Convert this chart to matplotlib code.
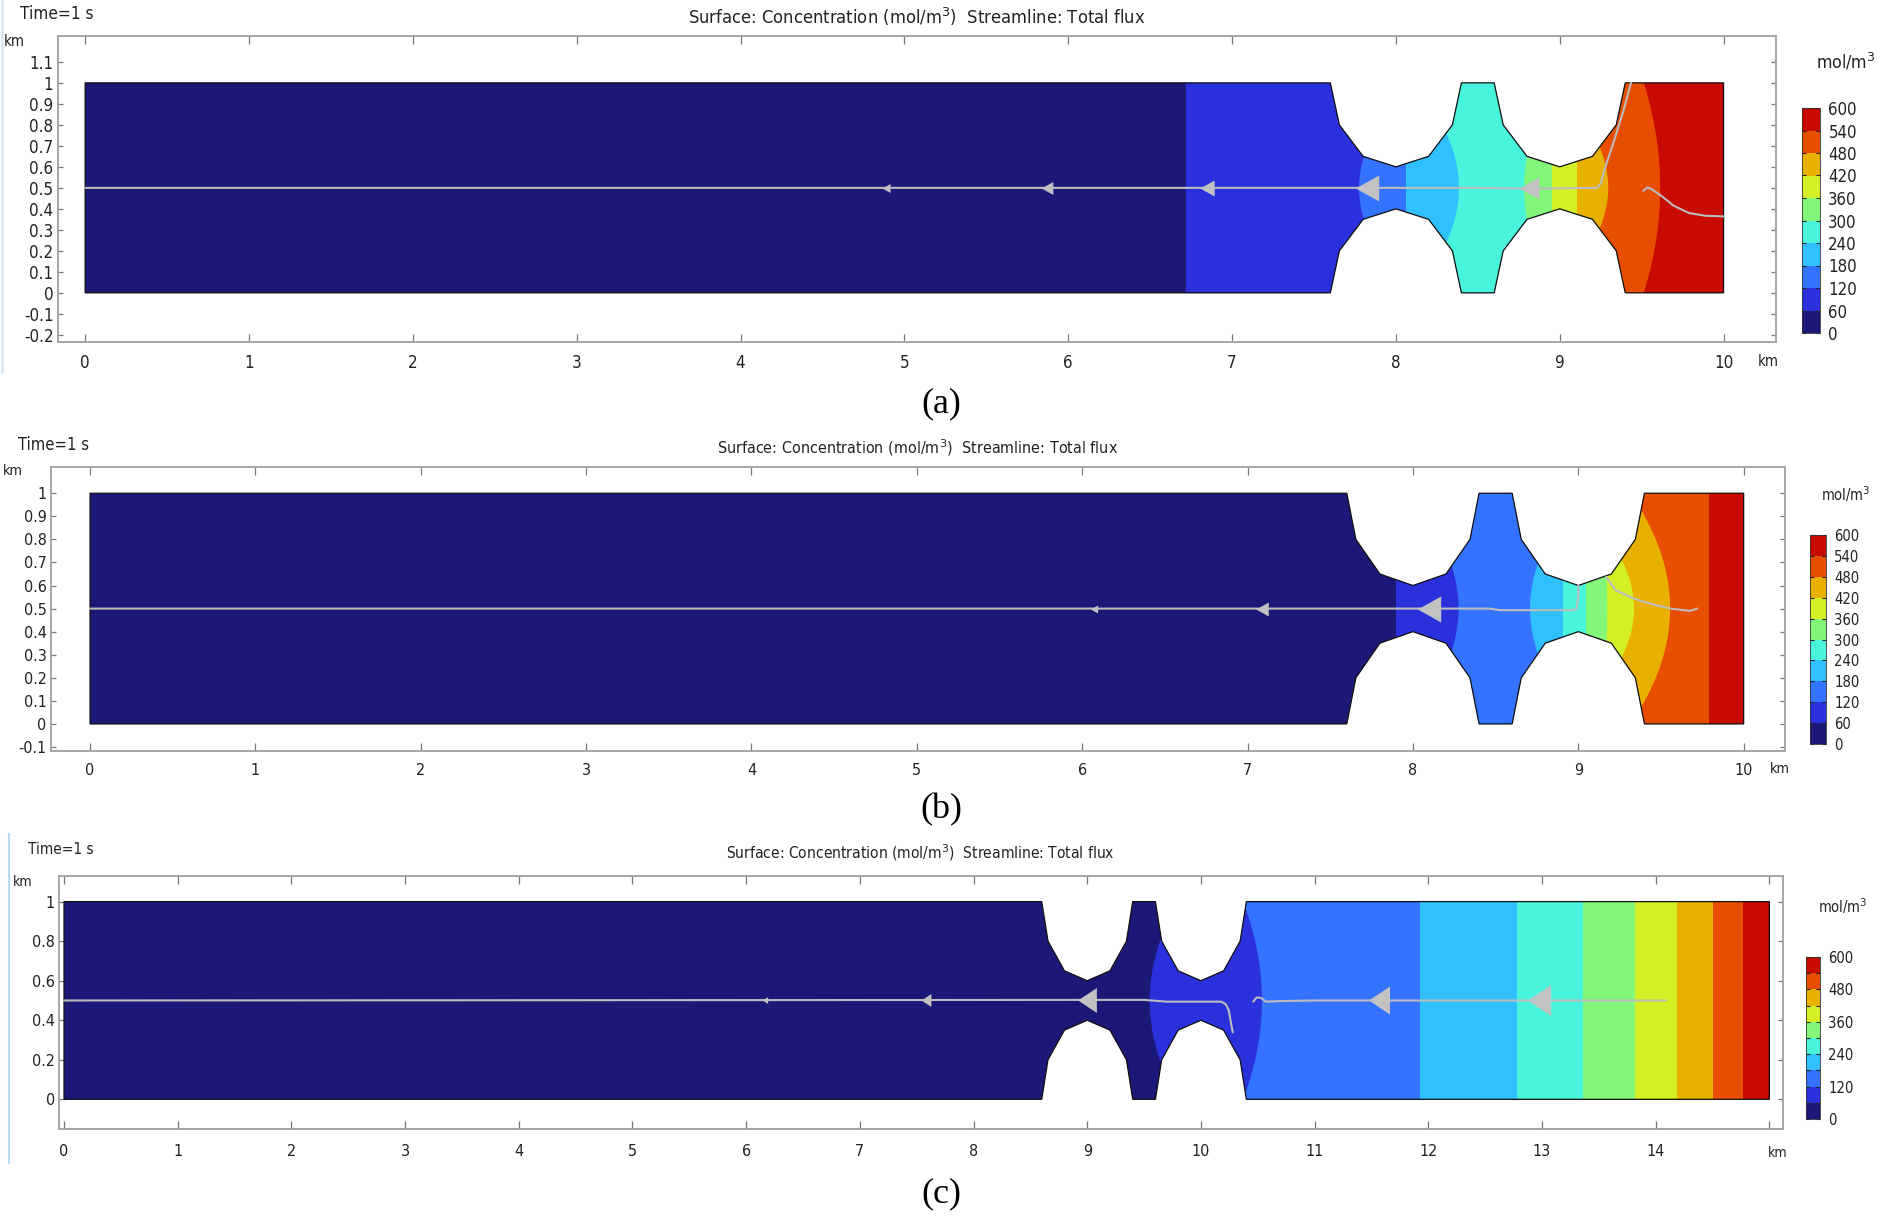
import numpy as np
import matplotlib
matplotlib.use("Agg")
import matplotlib.pyplot as plt
from matplotlib.colors import ListedColormap, BoundaryNorm
from matplotlib.patches import Polygon
from matplotlib.lines import Line2D
from matplotlib import font_manager as fm
import matplotlib.cm as cm

# ------------------------------------------------------------------ data
levels = [0, 60, 120, 180, 240, 300, 360, 420, 480, 540, 600]
band_colors = ['#1b1878', '#2b30dd', '#3373ff', '#30c0ff', '#48f5dc',
               '#82f77a', '#d4f024', '#e8b000', '#e84e00', '#c80a00']

# domain top outline in km (bottom outline is the mirror about y = 0.5)
ab_top_x = [0, 7.6, 7.655, 7.8, 8.0, 8.2, 8.345, 8.4, 8.6, 8.655, 8.8, 9.0, 9.2, 9.345, 9.4, 10.0]
ab_top_y = [1, 1, 0.8, 0.65, 0.6, 0.65, 0.8, 1, 1, 0.8, 0.65, 0.6, 0.65, 0.8, 1, 1]
c_top_x = [0, 8.6, 8.655, 8.8, 9.0, 9.2, 9.345, 9.4, 9.6, 9.655, 9.8, 10.0, 10.2, 10.345, 10.4, 15.0]
c_top_y = [1, 1, 0.8, 0.65, 0.6, 0.65, 0.8, 1, 1, 0.8, 0.65, 0.6, 0.65, 0.8, 1, 1]

# contour (iso-concentration) lines at 60, 120, ... 540 mol/m3:
# x position on the centre line (km) and bend towards the walls (km)
a_iso_center = [6.72, 7.775, 8.06, 8.384, 8.783, 8.95, 9.103, 9.296, 9.613]
a_iso_bend = [0.0, 0.33, 0.0, -0.28, 0.19, 0.0, 0.0, -0.35, -0.10]
b_iso_center = [7.90, 8.276, 8.708, 8.91, 9.045, 9.175, 9.337, 9.555, 9.79]
b_iso_bend = [0.0, -0.31, 0.31, 0.0, 0.0, -0.05, -0.42, -0.24, 0.0]
c_iso_center = [9.55, 10.537, 11.93, 12.78, 13.36, 13.82, 14.19, 14.50, 14.77]
c_iso_bend = [0.25, -0.167, 0.0, 0.0, 0.0, 0.0, 0.0, 0.0, 0.0]

# streamlines (km)
a_stream1_x = [0, 8.5, 8.8, 9.23, 9.25, 9.27, 9.33, 9.39, 9.435]
a_stream1_y = [0.5, 0.5, 0.496, 0.50, 0.52, 0.58, 0.72, 0.87, 1.0]
a_stream2_x = [9.51, 9.535, 9.56, 9.62, 9.695, 9.79, 9.89, 10.0]
a_stream2_y = [0.486, 0.502, 0.494, 0.462, 0.415, 0.38, 0.367, 0.364]
b_stream1_x = [0, 8.46, 8.53, 8.97, 8.99, 9.0, 9.0]
b_stream1_y = [0.5, 0.5, 0.493, 0.493, 0.50, 0.55, 0.60]
b_stream2_x = [9.168, 9.225, 9.337, 9.47, 9.56, 9.674, 9.72]
b_stream2_y = [0.638, 0.58, 0.543, 0.514, 0.50, 0.49, 0.50]
c_stream1_x = [0, 9.5, 9.7, 10.18, 10.22, 10.245, 10.26, 10.28]
c_stream1_y = [0.5, 0.503, 0.494, 0.494, 0.48, 0.45, 0.40, 0.339]
c_stream2_x = [10.46, 10.49, 10.53, 10.57, 10.7, 11.0, 14.09]
c_stream2_y = [0.494, 0.515, 0.513, 0.494, 0.497, 0.5, 0.5]

# streamline arrow positions (km) and arrow heights (px)
a_arrow_x = [4.89, 5.87, 6.85, 7.825, 8.81]
a_arrow_h = [9, 13, 16, 26, 22]
b_arrow_x = [6.07, 7.09, 8.095]
b_arrow_h = [8, 14, 26]
c_arrow_x = [6.17, 7.58, 9.0, 11.57, 12.97]
c_arrow_h = [7, 13, 25, 28, 31]

# axes ticks
a_xticks = list(range(0, 11))
a_yticks = [-0.2, -0.1, 0, 0.1, 0.2, 0.3, 0.4, 0.5, 0.6, 0.7, 0.8, 0.9, 1.0, 1.1]
b_xticks = list(range(0, 11))
b_yticks = [-0.1, 0, 0.1, 0.2, 0.3, 0.4, 0.5, 0.6, 0.7, 0.8, 0.9, 1.0]
c_xticks = list(range(0, 16))
c_xlabels = [str(v) for v in range(0, 15)] + ['']
c_yticks = [0, 0.2, 0.4, 0.6, 0.8, 1.0]
a_cbar_ticks = levels
b_cbar_ticks = levels
c_cbar_ticks = [0, 120, 240, 360, 480, 600]

TITLE = 'Surface: Concentration (mol/m$^3$)  Streamline: Total flux'
TIME = 'Time=1 s'
UNIT = 'mol/m$^3$'

# ------------------------------------------------------------------ style
W, H = 1881, 1217
fig = plt.figure(figsize=(W / 100, H / 100), dpi=100)
renderer = fig.canvas.get_renderer()
TXT = '#222222'
FRAME = '#a6a6a6'
STREAM = '#bcbcbc'
ARROW = '#c2c2c2'
GROW = 1.15   # text in the screenshot is squeezed sideways; trade width for height
cmap = ListedColormap(band_colors)
norm = BoundaryNorm(levels, cmap.N)


def _width(prop, txt):
    t = fig.text(0, 0, txt, fontproperties=prop)
    w = t.get_window_extent(renderer).width
    t.remove()
    return w


def pick_font():
    files = {f.fname.split('/')[-1].lower(): f.fname for f in fm.fontManager.ttflist}
    for base in ['dejavusanscondensed.ttf', 'robotocondensed-regular.ttf',
                 'robotocondensed[wght].ttf', 'asapcondensed-regular.ttf',
                 'barlowsemicondensed-regular.ttf', 'archivonarrow[wght].ttf']:
        if base in files:
            return fm.FontProperties(fname=files[base])
    return fm.FontProperties(family='DejaVu Sans')


BASE_FP = pick_font()


def fp(size):
    p = BASE_FP.copy()
    p.set_size(size)
    return p


def fit(txt, target_px):
    return GROW * 10.0 * target_px / _width(fp(10), txt)


def tri(aspect):
    return [(-aspect / 2, 0.0), (aspect / 2, 0.5), (aspect / 2, -0.5)]


def frac(x, y):
    return x / W, 1 - y / H


def fmt(v):
    return '%g' % round(v, 1)


def header(title_xy, title_w, time_xy, time_w, km1_xy, km2_xy, km_w):
    fig.text(*frac(*title_xy), TITLE, ha='center', va='center', color=TXT,
             fontproperties=fp(fit(TITLE, title_w)))
    fig.text(*frac(*time_xy), TIME, ha='left', va='center', color=TXT,
             fontproperties=fp(fit(TIME, time_w)))
    s_km = fit('km', km_w)
    fig.text(*frac(*km1_xy), 'km', ha='left', va='center', color=TXT, fontproperties=fp(s_km))
    fig.text(*frac(*km2_xy), 'km', ha='left', va='center', color=TXT, fontproperties=fp(s_km))


def panel(rect_px, xlim, ylim, top_x, top_y, iso_c, iso_b, streams, arr_x, arr_h,
          aspect, xticks, xlabels, yticks, xpad, s):
    l, t, r, b = rect_px
    ax = fig.add_axes([l / W, 1 - b / H, (r - l) / W, (b - t) / H])
    ax.set_xlim(*xlim)
    ax.set_ylim(*ylim)
    verts = list(zip(top_x, top_y)) + list(zip(top_x[::-1], [1 - v for v in top_y[::-1]]))
    clip = Polygon(verts, closed=True, transform=ax.transData)
    yy = np.linspace(0, 1, 121)
    r2 = ((yy - 0.5) / 0.5) ** 2
    far_r = xlim[1] + 2
    for i, col in enumerate(band_colors):
        if i == 0:
            left = np.full_like(yy, xlim[0] - 2)
        else:
            left = iso_c[i - 1] + iso_b[i - 1] * r2
        px = np.r_[left, np.full_like(yy, far_r)]
        py = np.r_[yy, yy[::-1]]
        pol = ax.fill(px, py, color=col, lw=0, zorder=1)[0]
        pol.set_clip_path(clip)
    ax.add_patch(Polygon(verts, closed=True, fill=False, ec='#111111', lw=0.9, zorder=3))
    for sx, sy in streams:
        ax.plot(sx, sy, color=STREAM, lw=1.5, zorder=4, solid_capstyle='round')
    for xa, ha in zip(arr_x, arr_h):
        ax.plot([xa], [0.5], ls='none', marker=tri(aspect), ms=ha / 1.389, color=ARROW,
                mec=ARROW, mew=0, zorder=5)
    ax.tick_params(axis='x', direction='in', top=True, bottom=True, length=5.5,
                   width=0.9, color='#777777', pad=xpad, labelcolor=TXT)
    ax.tick_params(axis='y', direction='in', left=True, right=True, length=3.5,
                   width=0.9, color='#777777', pad=3, labelcolor=TXT)
    ax.set_xticks(xticks)
    ax.set_xticklabels(xlabels, fontproperties=fp(s))
    ax.set_yticks(yticks)
    ax.set_yticklabels([fmt(v) for v in yticks], fontproperties=fp(s))
    for sp in ax.spines.values():
        sp.set_color(FRAME)
        sp.set_linewidth(1.4)
    return ax


def cbar(rect_px, ticks, label_xy, s, unit_w):
    l, t, r, b = rect_px
    cax = fig.add_axes([l / W, 1 - b / H, (r - l) / W, (b - t) / H])
    sm = cm.ScalarMappable(norm=norm, cmap=cmap)
    cb = fig.colorbar(sm, cax=cax, ticks=levels)
    cb.outline.set_edgecolor('#333333')
    cb.outline.set_linewidth(0.6)
    cax.tick_params(direction='in', left=True, right=True, length=3, width=0.8,
                    color='#222222', pad=6, labelcolor=TXT)
    cax.set_yticks(levels)
    cax.set_yticklabels([str(v) if v in ticks else '' for v in levels], fontproperties=fp(s))
    fig.text(*frac(*label_xy), UNIT, ha='center', va='center', color=TXT,
             fontproperties=fp(fit(UNIT, unit_w)))


def caption(xy, txt):
    fig.text(*frac(*xy), txt, ha='center', va='center', fontsize=26,
             family='Liberation Serif', color='black')


# ---------------- panel (a)
header((917, 17), 398, (20, 14), 64, (4, 41), (1758, 361), 18)
panel((57.6, 36, 1776, 342), (-0.168, 10.32), (-0.234, 1.223), ab_top_x, ab_top_y,
      a_iso_center, a_iso_bend,
      [(a_stream1_x, a_stream1_y), (a_stream2_x, a_stream2_y)],
      a_arrow_x, a_arrow_h, 0.9, a_xticks, [str(v) for v in a_xticks], a_yticks, 9,
      fit('0.9', 21))
cbar((1802, 108, 1820, 333), a_cbar_ticks, (1846, 62), fit('600', 25), 52)
caption((941, 404), '(a)')

# ---------------- panel (b)
header((918, 448), 350, (18, 445), 62, (3, 471), (1770, 769), 17.5)
panel((50.7, 466.7, 1785, 750.7), (-0.238, 10.25), (-0.116, 1.115), ab_top_x, ab_top_y,
      b_iso_center, b_iso_bend,
      [(b_stream1_x, b_stream1_y), (b_stream2_x, b_stream2_y)],
      b_arrow_x, b_arrow_h, 0.9, b_xticks, [str(v) for v in b_xticks], b_yticks, 9,
      fit('0.9', 20))
cbar((1810, 535, 1826, 744), b_cbar_ticks, (1846, 494), fit('600', 22), 43)
caption((941, 810), '(b)')

# ---------------- panel (c)
header((920, 853), 337, (28, 849), 57, (13, 882), (1768, 1153), 17)
panel((59, 875.7, 1783, 1129), (-0.044, 15.12), (-0.150, 1.131), c_top_x, c_top_y,
      c_iso_center, c_iso_bend,
      [(c_stream1_x, c_stream1_y), (c_stream2_x, c_stream2_y)],
      c_arrow_x, c_arrow_h, 0.75, c_xticks, c_xlabels, c_yticks, 11,
      fit('0.8', 20))
cbar((1806, 957, 1820, 1119), c_cbar_ticks, (1843, 906), fit('600', 22), 43)
caption((941, 1194), '(c)')

# thin screenshot borders at the left edge
fig.add_artist(Line2D([2 / W, 2 / W], [1, 1 - 372 / H], color='#d6eaf8', lw=2))
fig.add_artist(Line2D([9.3 / W, 9.3 / W], [1 - 834 / H, 1 - 1163 / H], color='#b4dcf2', lw=1.5))

fig.savefig('out.png', dpi=100, facecolor='white')
